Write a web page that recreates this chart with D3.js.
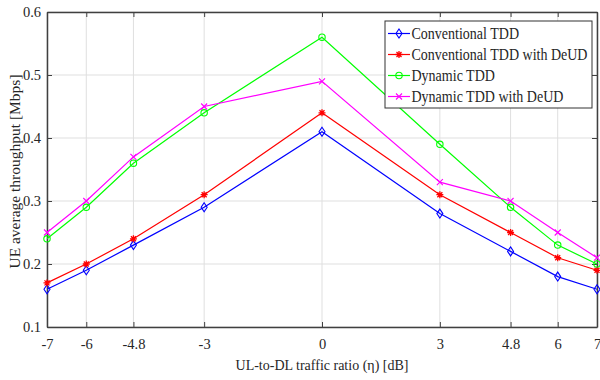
<!DOCTYPE html>
<html>
<head>
<meta charset="utf-8">
<script src="https://cdn.jsdelivr.net/npm/d3@7"></script>
<style>
  body { margin: 0; background: #fff; }
  #chart { width: 600px; height: 380px; }
</style>
</head>
<body>
<div id="chart"></div>
<script>
var ratios = [-7, -6, -4.8, -3, 0, 3, 4.8, 6, 7];
var yTicks = [0.1, 0.2, 0.3, 0.4, 0.5, 0.6];
var seriesNames = ["Conventional TDD", "Conventional TDD with DeUD", "Dynamic TDD", "Dynamic TDD with DeUD"];
var convTdd = [0.16, 0.19, 0.23, 0.29, 0.41, 0.28, 0.22, 0.18, 0.16];
var convTddDeud = [0.17, 0.20, 0.24, 0.31, 0.44, 0.31, 0.25, 0.21, 0.19];
var dynTdd = [0.24, 0.29, 0.36, 0.44, 0.56, 0.39, 0.29, 0.23, 0.20];
var dynTddDeud = [0.25, 0.30, 0.37, 0.45, 0.49, 0.33, 0.30, 0.25, 0.21];

var FONT = "'Liberation Serif', 'Times New Roman', Times, serif";

function drawChart() {
  var margin = { top: 12, right: 3, bottom: 53, left: 47 };
  var width = 600 - margin.left - margin.right;
  var height = 380 - margin.top - margin.bottom;

  var svg = d3.select("#chart").append("svg")
    .attr("width", 600)
    .attr("height", 380);
  var g = svg.append("g")
    .attr("transform", "translate(" + margin.left + "," + margin.top + ")");

  var x = d3.scaleLinear().domain([-7, 7]).range([0, width]);
  var y = d3.scaleLinear().domain([0.1, 0.6]).range([height, 0]);

  // grid
  g.selectAll(".vgrid").data(ratios).enter().append("line")
    .attr("x1", function (d) { return x(d); })
    .attr("x2", function (d) { return x(d); })
    .attr("y1", 0).attr("y2", height)
    .attr("stroke", "#dfdfdf").attr("stroke-width", 1);
  g.selectAll(".hgrid").data(yTicks).enter().append("line")
    .attr("x1", 0).attr("x2", width)
    .attr("y1", function (d) { return y(d); })
    .attr("y2", function (d) { return y(d); })
    .attr("stroke", "#dfdfdf").attr("stroke-width", 1);

  // axes, MATLAB style with inward ticks on all four sides
  var tickLen = 5;
  var xAxis = g.append("g")
    .attr("transform", "translate(0," + height + ")")
    .call(d3.axisBottom(x).tickValues(ratios).tickSizeInner(-tickLen).tickSizeOuter(0)
      .tickFormat(function (d) { return d; }));
  var xTop = g.append("g")
    .call(d3.axisTop(x).tickValues(ratios).tickSizeInner(-tickLen).tickSizeOuter(0).tickFormat(""));
  var yAxis = g.append("g")
    .call(d3.axisLeft(y).tickValues(yTicks).tickSizeInner(-tickLen).tickSizeOuter(0)
      .tickFormat(d3.format(".1f")));
  var yRight = g.append("g")
    .attr("transform", "translate(" + width + ",0)")
    .call(d3.axisRight(y).tickValues(yTicks).tickSizeInner(-tickLen).tickSizeOuter(0).tickFormat(""));

  [xAxis, xTop, yAxis, yRight].forEach(function (a) {
    a.select(".domain").attr("stroke", "#404040").attr("stroke-width", 1.5);
    a.selectAll(".tick line").attr("stroke", "#404040");
    a.selectAll("text").style("font-family", FONT).style("font-size", "14.5px").attr("fill", "#262626");
  });
  xAxis.selectAll("text").attr("dy", "1.3em");
  yAxis.selectAll("text").attr("x", -6);

  // axis labels
  svg.append("text")
    .attr("x", margin.left + x(0))
    .attr("y", 370)
    .attr("text-anchor", "middle")
    .style("font-family", FONT)
    .style("font-size", "14px")
    .attr("fill", "#262626")
    .text("UL-to-DL traffic ratio (\u03b7) [dB]");
  svg.append("text")
    .attr("transform", "translate(20," + (margin.top + height / 2 + 2) + ") rotate(-90)")
    .attr("text-anchor", "middle")
    .style("font-family", FONT)
    .style("font-size", "15.5px")
    .attr("fill", "#262626")
    .text("UE average throughput [Mbps]");

  var data = [
    { name: seriesNames[0], values: convTdd, color: "#0000ff", marker: "diamond" },
    { name: seriesNames[1], values: convTddDeud, color: "#ff0000", marker: "star" },
    { name: seriesNames[2], values: dynTdd, color: "#00ff00", marker: "circle" },
    { name: seriesNames[3], values: dynTddDeud, color: "#ff00ff", marker: "cross" }
  ];

  var line = d3.line()
    .x(function (d, i) { return x(ratios[i]); })
    .y(function (d) { return y(d); });

  function drawMarker(sel, type, color) {
    sel.each(function () {
      var m = d3.select(this);
      if (type === "diamond") {
        m.append("path").attr("d", "M0,-4.5L3,0L0,4.5L-3,0Z")
          .attr("fill", "none").attr("stroke", color).attr("stroke-width", 1.1);
      } else if (type === "circle") {
        m.append("circle").attr("r", 3.2)
          .attr("fill", "none").attr("stroke", color).attr("stroke-width", 1.1);
      } else if (type === "star") {
        m.append("path").attr("d", "M-3.5,0L3.5,0M0,-3.5L0,3.5M-2.5,-2.5L2.5,2.5M-2.5,2.5L2.5,-2.5")
          .attr("stroke", color).attr("stroke-width", 1.3);
      } else {
        m.append("path").attr("d", "M-3,-3L3,3M-3,3L3,-3")
          .attr("stroke", color).attr("stroke-width", 1.1);
      }
    });
  }

  data.forEach(function (s) {
    g.append("path")
      .attr("d", line(s.values))
      .attr("fill", "none")
      .attr("stroke", s.color)
      .attr("stroke-width", 1.2);
    var pts = g.selectAll(null).data(s.values).enter().append("g")
      .attr("transform", function (d, i) { return "translate(" + x(ratios[i]) + "," + y(d) + ")"; });
    drawMarker(pts, s.marker, s.color);
  });

  // legend
  var lg = svg.append("g").attr("transform", "translate(385,21)");
  var boxW = 207;
  lg.append("rect")
    .attr("width", boxW).attr("height", 87)
    .attr("fill", "#fff").attr("stroke", "#333").attr("stroke-width", 1);
  var labels = [];
  data.forEach(function (s, i) {
    var ly = 12.5 + i * 21;
    var row = lg.append("g").attr("transform", "translate(0," + ly + ")");
    row.append("line").attr("x1", 3).attr("x2", 25).attr("y1", 0).attr("y2", 0)
      .attr("stroke", s.color).attr("stroke-width", 1.2);
    var mk = row.append("g").attr("transform", "translate(14,0)");
    drawMarker(mk, s.marker, s.color);
    labels.push(row.append("text")
      .attr("x", 26.5).attr("y", 5.5)
      .style("font-family", FONT)
      .style("font-size", "17px")
      .attr("fill", "#262626")
      .text(s.name));
  });
  // fit the longest legend label to the box width, others in proportion
  var widths = labels.map(function (t) { return t.node().getComputedTextLength(); });
  var maxW = d3.max(widths);
  var fitW = boxW - 26.5 - 4.5;
  labels.forEach(function (t, i) {
    t.attr("textLength", fitW * widths[i] / maxW)
      .attr("lengthAdjust", "spacingAndGlyphs");
  });
}

drawChart();
</script>
</body>
</html>
